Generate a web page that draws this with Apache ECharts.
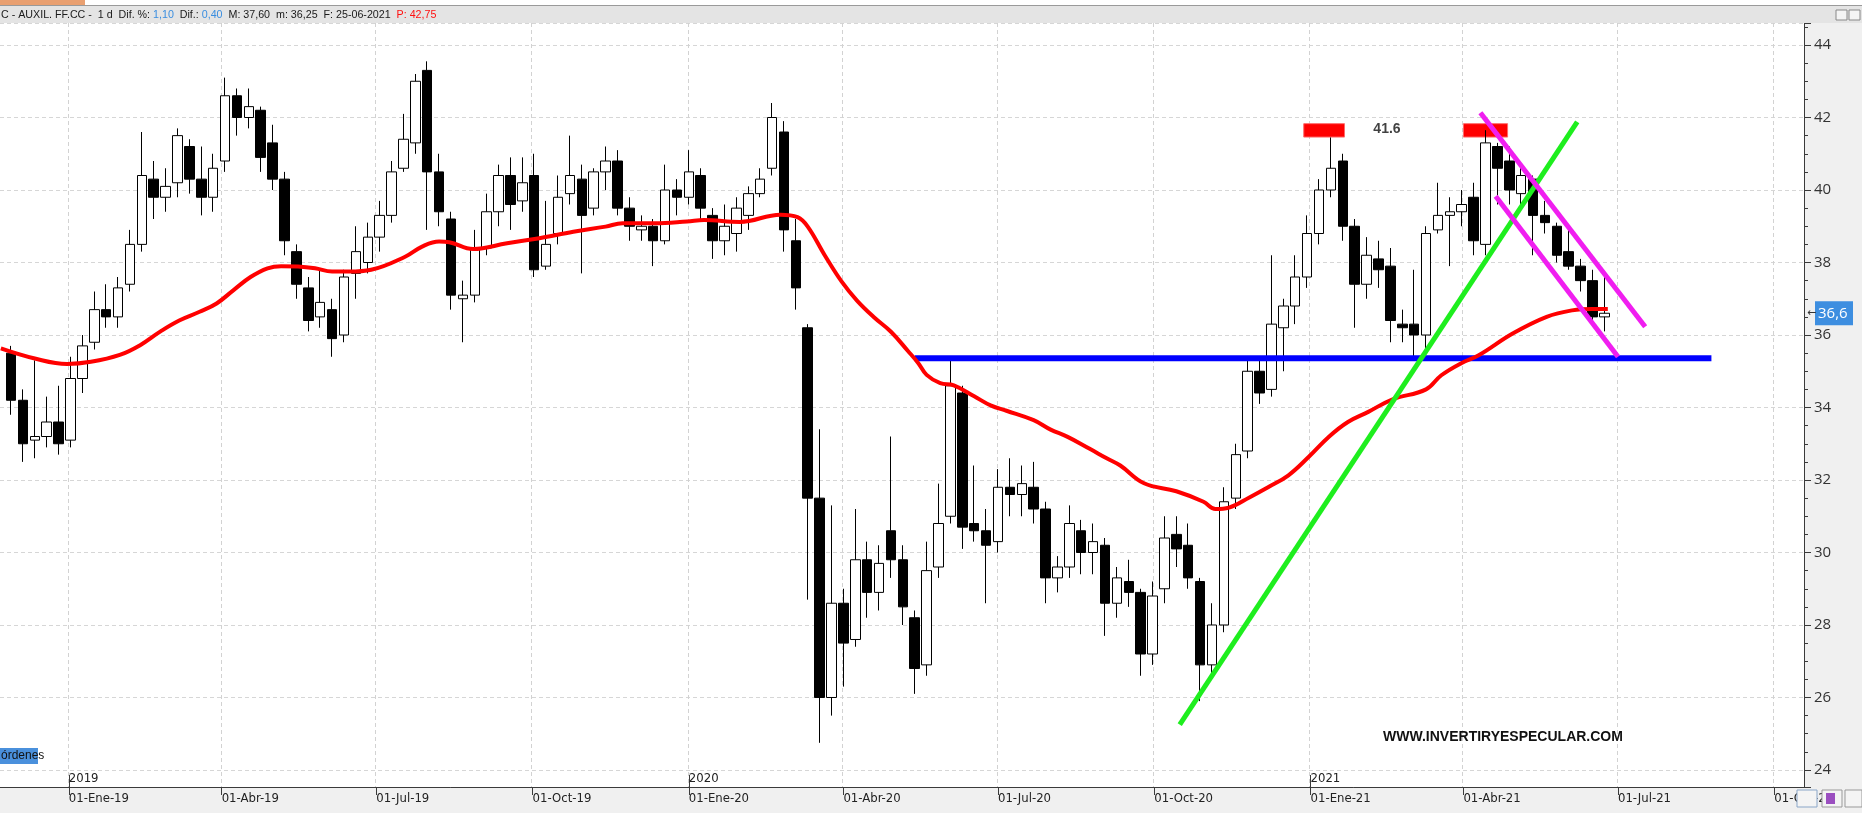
<!DOCTYPE html>
<html><head><meta charset="utf-8">
<script src="https://cdn.jsdelivr.net/npm/echarts@6/dist/echarts.min.js"></script>
<style>html,body{margin:0;padding:0;background:#f0f0f0;}#c{width:1862px;height:813px;}</style>
</head><body><div id="c"></div>
<script>
// ---- data (weekly OHLC) ----
const firstWeekStart = '2018-11-26';
const opens = [35.5,34.2,33.1,33.2,33.6,33.1,
34.8,35.8,36.7,36.5, 37.4,38.5,40.3,39.8, 40.2,41.2,40.3,39.8, 40.8,42.6,42.0,42.2,41.3, 40.3,38.3,37.3,36.5, 36.7,36.0,37.7,38.0,
38.7,39.3,40.6,41.3,43.3, 40.5,39.2,37.0,37.1, 38.4,39.4,40.4,39.7,40.4, 37.9,38.8,39.9,40.3, 39.5,40.5,40.8,39.5, 38.9,39.0,38.6,40.0,39.8,
40.4,39.3,38.6,38.8, 39.3,39.9,40.6,41.6, 38.6,36.2,31.5,26.0,28.6, 27.6,29.8,28.9,30.6, 29.8,28.2,26.9,29.6, 31.0,34.4,30.8,30.6,30.3,
31.8,31.6,31.8,31.2, 29.3,29.6,30.6,30.0,30.2, 28.6,29.2,28.9,27.2, 29.0,30.5,30.2,29.2, 26.9,28.0,31.5,32.8,35.0, 34.5,36.2,36.8,37.6,
38.8,40.0,40.8,39.0, 37.4,38.1,37.9,36.3, 36.3,36.0,38.9,39.3,39.4, 39.8,38.5,41.2,40.8, 39.9,40.3,39.3,39.0,38.3, 37.9,37.5,36.5];
const closes = [34.2,33.0,33.2,33.6,33.0,34.8,
35.7,36.7,36.5,37.3, 38.5,40.4,39.8,40.1, 41.5,40.3,39.8,40.6, 42.6,42.0,42.3,40.9,40.3, 38.6,37.4,36.4,36.9, 35.9,37.6,38.3,38.7,
39.3,40.5,41.4,43.0,40.5, 39.4,37.1,37.1,38.4, 39.4,40.4,39.6,40.2,37.8, 38.5,39.8,40.4,39.3, 40.5,40.8,39.5,39.0, 39.0,38.6,40.0,39.8,40.5,
39.5,38.6,39.0,39.5, 39.9,40.3,42.0,38.9, 37.3,31.5,26.0,28.6,27.5, 29.8,28.9,29.7,29.8, 28.5,26.8,29.5,30.8, 34.6,30.7,30.6,30.2,31.8,
31.6,31.9,31.2,29.3, 29.6,30.8,30.0,30.3,28.6, 29.3,28.9,27.2,28.8, 30.4,30.1,29.3,26.9, 28.0,31.4,32.7,35.0,34.4, 36.3,36.8,37.6,38.8,
40.0,40.6,39.0,37.4, 38.2,37.8,36.4,36.2, 36.0,38.8,39.3,39.4,39.6, 38.6,41.3,40.6,40.0, 40.4,39.3,39.1,38.2,37.9, 37.5,36.5,36.6];
const lows = [33.8,32.5,32.6,32.9,32.7,32.9,
34.4,35.6,36.2,36.2, 37.2,38.3,39.2,39.4, 39.8,39.9,39.3,39.4, 40.5,41.5,41.7,40.5,40.0, 38.2,37.0,36.1,36.2, 35.4,35.8,37.0,37.7,
38.3,39.1,40.5,41.0,38.9, 39.0,36.7,35.8,36.9, 38.2,39.0,38.9,39.4,37.6, 37.8,38.5,39.6,37.7, 39.3,40.0,39.3,38.6, 38.6,37.9,38.5,39.3,39.6,
39.2,38.1,38.2,38.3, 38.9,39.8,40.4,38.3, 36.7,28.7,24.75,25.5,26.3, 27.4,28.2,28.4,29.3, 28.0,26.1,26.6,29.3, 30.8,30.1,30.3,28.6,30.0,
31.0,31.0,30.8,28.6, 28.9,29.3,29.4,29.4,27.7, 28.2,28.5,26.6,26.9, 28.6,29.6,29.0,25.9, 26.5,27.8,31.2,32.6,34.1, 34.3,35.0,36.3,37.3,
38.5,39.8,38.6,36.2, 37.0,37.3,35.8,35.8, 35.4,35.5,38.8,37.9,39.0, 38.2,38.2,39.6,39.6, 39.5,38.2,38.8,38.0,37.8, 37.2,36.3,36.1];
const highs = [35.7,34.5,35.3,34.3,34.6,35.4,
36.0,37.2,37.4,37.6, 38.9,41.6,40.8,40.6, 41.7,41.4,41.2,41.0, 43.1,42.8,42.8,42.3,41.8, 40.5,38.5,37.6,37.8, 37.0,37.8,39.0,39.1,
39.7,40.8,42.1,43.2,43.55, 41.0,39.4,37.5,38.9, 39.9,40.7,40.9,40.9,41.0, 39.7,40.4,41.5,40.7, 40.6,41.2,41.1,39.8, 39.3,39.2,40.7,40.3,41.1,
40.6,39.5,39.6,39.8, 40.1,40.6,42.4,41.9, 39.2,36.3,33.4,31.3,29.0, 31.2,30.3,30.2,33.2, 30.2,28.4,30.3,31.9, 35.4,34.6,32.4,31.2,32.3,
32.6,32.4,32.5,31.4, 29.9,31.3,30.9,30.8,30.4, 29.6,29.8,29.0,29.2, 31.0,31.0,30.8,29.3, 28.6,31.8,33.0,35.3,35.4, 38.2,37.0,38.2,39.3,
40.3,41.45,41.0,39.2, 38.7,38.6,38.4,36.7, 37.8,39.0,40.2,39.8,40.0, 40.2,41.65,41.3,41.2, 40.7,40.4,39.7,39.1,39.0, 38.1,37.8,37.6];

// moving average (red), read at sample dates
const maDates = ['2018-11-22','2018-12-12','2018-12-31','2019-01-14','2019-01-31','2019-02-12','2019-02-24','2019-03-07','2019-03-19','2019-03-29',
'2019-04-08','2019-04-18','2019-04-28','2019-05-06','2019-05-16','2019-05-26','2019-06-05','2019-06-15','2019-06-28','2019-07-18',
'2019-07-28','2019-08-07','2019-08-13','2019-08-27','2019-09-16','2019-10-05','2019-10-25','2019-11-13','2019-11-23','2019-12-12',
'2019-12-31','2020-01-10','2020-01-31','2020-02-24','2020-03-05','2020-03-11','2020-03-21','2020-03-31','2020-04-09','2020-04-19',
'2020-04-29','2020-05-09','2020-05-15','2020-05-20','2020-05-28','2020-06-05','2020-06-17','2020-06-27','2020-07-06','2020-07-22',
'2020-08-01','2020-08-11','2020-08-24','2020-09-03','2020-09-11','2020-09-25','2020-10-14','2020-10-30','2020-11-06','2020-11-14',
'2020-11-26','2020-12-07','2020-12-19','2020-12-31','2021-01-12','2021-01-23','2021-02-04','2021-02-18','2021-03-10','2021-03-19',
'2021-03-31','2021-04-10','2021-04-30','2021-05-20','2021-06-04','2021-06-16','2021-06-25'];
const maValues = [35.63,35.35,35.20,35.26,35.45,35.72,36.10,36.40,36.64,36.87,
37.24,37.60,37.84,37.90,37.89,37.84,37.75,37.75,37.80,38.16,
38.44,38.58,38.56,38.37,38.53,38.67,38.85,38.99,39.08,39.08,
39.13,39.17,39.12,39.32,39.25,38.99,38.20,37.47,36.95,36.49,
36.09,35.56,35.23,34.90,34.67,34.61,34.31,34.05,33.91,33.65,
33.39,33.19,32.86,32.60,32.40,31.91,31.69,31.40,31.20,31.24,
31.52,31.80,32.13,32.64,33.20,33.60,33.88,34.22,34.50,34.89,
35.23,35.44,36.04,36.50,36.68,36.72,36.72];

// drawn annotations
const supportLine = [['2020-05-13', 35.36], ['2021-08-25', 35.36]];
const trendLine = [['2020-10-16', 25.25], ['2021-06-07', 41.88]];
const channelUpper = [['2021-04-11', 42.13], ['2021-07-17', 36.23]];
const channelLower = [['2021-04-20', 39.83], ['2021-07-01', 35.40]];
const topZones = [['2020-12-28', '2021-01-21'], ['2021-04-01', '2021-04-27']];
const topZoneRange = [41.46, 41.83];
const topLabel = {text: '41.6', date: '2021-02-15', value: 41.69};
const titleParts = {name: 'C - AUXIL. FF.CC -  1 d  Dif. %: ', difPct: '1,10', dif: '0,40', rest: '  M: 37,60  m: 36,25  F: 25-06-2021  ', prev: 'P: 42,75'};
const watermark = 'WWW.INVERTIRYESPECULAR.COM';

// axis settings
const axisFirstDay = [2018, 10, 22];
const axisLastDay = [2021, 9, 18];
const quarterMonths = ['01', '04', '07', '10'];
const monthNames = ['Ene','Feb','Mar','Abr','May','Jun','Jul','Ago','Sep','Oct','Nov','Dic'];

// ---- build ----
const DAY = 86400000;
const days = [];
for (let t = Date.UTC(...axisFirstDay); t <= Date.UTC(...axisLastDay); t += DAY) days.push(new Date(t).toISOString().slice(0, 10));
const idx = s => days.indexOf(s);
const addDays = (s, n) => new Date(Date.parse(s + 'T00:00:00Z') + n * DAY).toISOString().slice(0, 10);
const candles = opens.map((o, i) => [idx(addDays(firstWeekStart, i * 7 + 2)), o, closes[i], lows[i], highs[i]]);
const maData = maDates.map((d, i) => [idx(d), maValues[i]]);
const toXY = arr => arr.map(p => [idx(p[0]), p[1]]);
const isQuarter = (i, v) => v.slice(8) === '01' && quarterMonths.includes(v.slice(5, 7));
const isYear = (i, v) => v.slice(5) === '01-01';
const fmtDate = v => '01-' + monthNames[+v.slice(5, 7) - 1] + '-' + v.slice(2, 4);
const narrow = "'Liberation Sans Narrow', 'DejaVu Sans Condensed', sans-serif";
const axisColor = '#3a3a3a';

const chart = echarts.init(document.getElementById('c'), null, {renderer: 'canvas'});
const option = {
  animation: false,
  backgroundColor: '#f0f0f0',
  grid: {left: 0, right: 58, top: 23, bottom: 26, show: true, backgroundColor: '#ffffff', borderWidth: 0},
  xAxis: [{
    type: 'category', data: days, boundaryGap: true, position: 'bottom',
    axisLine: {onZero: false, lineStyle: {color: axisColor, width: 1}},
    axisTick: {show: true, alignWithLabel: true, interval: isQuarter, length: 8, lineStyle: {color: axisColor}},
    axisLabel: {interval: isQuarter, formatter: fmtDate, align: 'left', margin: 5, color: '#222', fontSize: 13, fontFamily: narrow},
    splitLine: {show: true, interval: isQuarter, lineStyle: {color: '#d2d2d2', type: [4, 3], width: 1}}
  }, {
    type: 'category', data: days, boundaryGap: true, position: 'bottom',
    axisLine: {show: false, onZero: false},
    axisTick: {show: true, inside: true, alignWithLabel: true, interval: isYear, length: 12, lineStyle: {color: axisColor}},
    axisLabel: {show: true, inside: true, interval: isYear, formatter: v => v.slice(0, 4), align: 'left', margin: 2, color: '#222', fontSize: 13, fontFamily: narrow},
    splitLine: {show: false}
  }],
  yAxis: {
    type: 'value', position: 'right', min: 23.531, max: 44.607, splitNumber: 10,
    axisLine: {show: true, lineStyle: {color: axisColor}},
    axisTick: {show: true, length: 7, lineStyle: {color: axisColor}},
    minorTick: {show: true, splitNumber: 4, length: 4, lineStyle: {color: axisColor}},
    axisLabel: {showMinLabel: false, showMaxLabel: false, margin: 10, color: '#333', fontSize: 15, fontFamily: "'Open Sans', sans-serif"},
    splitLine: {show: true, lineStyle: {color: '#d6d6d6', type: [4, 3]}}
  },
  series: [
    {type: 'candlestick', name: 'CAF', data: candles, encode: {x: 0, y: [1, 2, 3, 4]}, barWidth: 10, z: 2,
     itemStyle: {color: '#ffffff', color0: '#000000', borderColor: '#000000', borderColor0: '#000000', borderWidth: 1}},
    {type: 'line', name: 'MM', data: maData, smooth: 0.4, showSymbol: false, z: 4,
     lineStyle: {color: '#ff0000', width: 4}},
    {type: 'line', name: 'soporte', data: toXY(supportLine), showSymbol: false, z: 3,
     lineStyle: {color: '#0000ff', width: 6}},
    {type: 'line', name: 'tendencia', data: toXY(trendLine), showSymbol: false, z: 5,
     lineStyle: {color: '#1eee1e', width: 5}},
    {type: 'line', name: 'canal1', data: toXY(channelUpper), showSymbol: false, z: 5,
     lineStyle: {color: '#f01ef0', width: 5}},
    {type: 'line', name: 'canal2', data: toXY(channelLower), showSymbol: false, z: 5,
     lineStyle: {color: '#f01ef0', width: 5}},
    {type: 'scatter', name: 'techos', data: [[idx(topLabel.date), topLabel.value]], symbolSize: 1, z: 6, silent: true,
     itemStyle: {color: 'rgba(0,0,0,0)'},
     label: {show: true, position: 'inside', formatter: topLabel.text, color: '#111', fontWeight: 'bold', fontSize: 14, fontFamily: "'Liberation Sans', Arial, sans-serif"},
     markArea: {silent: true, itemStyle: {color: '#ff0000', borderColor: '#ff6a6a', borderWidth: 1, opacity: 1},
       data: topZones.map(z => [{xAxis: z[0], yAxis: topZoneRange[0]}, {xAxis: z[1], yAxis: topZoneRange[1]}])}}
  ]
};
chart.setOption(option);

const lastClose = closes[closes.length - 1];
const py = chart.convertToPixel({yAxisIndex: 0}, lastClose);
const tf = "'Liberation Sans', Arial";
chart.setOption({graphic: [
  {type: 'rect', shape: {x: 0, y: 0, width: 1862, height: 6}, style: {fill: '#ffffff'}, z: 10},
  {type: 'rect', shape: {x: 0, y: 0, width: 85, height: 5}, style: {fill: '#e9a071'}, z: 11},
  {type: 'rect', shape: {x: 0, y: 5, width: 1862, height: 1}, style: {fill: '#9a9a9a'}, z: 11},
  {type: 'rect', shape: {x: 0, y: 6, width: 1862, height: 17}, style: {fill: '#e4e4e4'}, z: 10},
  {type: 'rect', shape: {x: 1836, y: 10, width: 11, height: 10}, style: {fill: '#f4f4f4', stroke: '#888', lineWidth: 1}, z: 11},
  {type: 'rect', shape: {x: 1849, y: 10, width: 11, height: 10}, style: {fill: '#f4f4f4', stroke: '#888', lineWidth: 1}, z: 11},
  {type: 'text', x: 1, y: 15, z: 12, style: {
    text: '{k|' + titleParts.name + '}{b|' + titleParts.difPct + '}{k|  Dif.: }{b|' + titleParts.dif + '}{k|' + titleParts.rest + '}{r|' + titleParts.prev + '}',
    verticalAlign: 'middle', font: "10.7px 'Liberation Sans', Arial, sans-serif",
    rich: {k: {fill: '#1a1a1a', fontSize: 10.7, fontFamily: tf},
           b: {fill: '#3a8ee0', fontSize: 10.7, fontFamily: tf},
           r: {fill: '#ff1010', fontSize: 10.7, fontFamily: tf}}}},
  {type: 'text', x: 1503, y: 737, z: 12, style: {text: watermark, fill: '#111', font: "bold 14px 'Liberation Sans', Arial, sans-serif", align: 'center', verticalAlign: 'middle'}},
  {type: 'rect', shape: {x: 0, y: 748, width: 38, height: 16}, style: {fill: '#4a90dc'}, z: 12},
  {type: 'text', x: 1, y: 756, z: 13, style: {text: 'órdenes', fill: '#111', font: "12px 'Liberation Sans', Arial, sans-serif", verticalAlign: 'middle'}},
  {type: 'rect', shape: {x: 1815, y: py - 12, width: 38, height: 24}, style: {fill: '#3d8ee0'}, z: 12},
  {type: 'text', x: 1818, y: py, z: 13, style: {text: lastClose.toFixed(1).replace('.', ','), fill: '#ffffff', font: "15px 'Open Sans', sans-serif", verticalAlign: 'middle'}},
  {type: 'text', x: 1807, y: py, z: 13, style: {text: '←', fill: '#333', font: "11px 'DejaVu Sans'", verticalAlign: 'middle'}},
  {type: 'rect', shape: {x: 1797, y: 790, width: 20, height: 17}, style: {fill: '#f4f4f4', stroke: '#8aa6c8', lineWidth: 1}, z: 12},
  {type: 'rect', shape: {x: 1822, y: 790, width: 20, height: 17}, style: {fill: '#f4f4f4', stroke: '#999', lineWidth: 1}, z: 12},
  {type: 'rect', shape: {x: 1826, y: 793, width: 9, height: 11}, style: {fill: '#9b4fc0'}, z: 13},
  {type: 'rect', shape: {x: 1845, y: 790, width: 17, height: 17}, style: {fill: '#f4f4f4', stroke: '#999', lineWidth: 1}, z: 12}
]});
</script>
</body></html>
